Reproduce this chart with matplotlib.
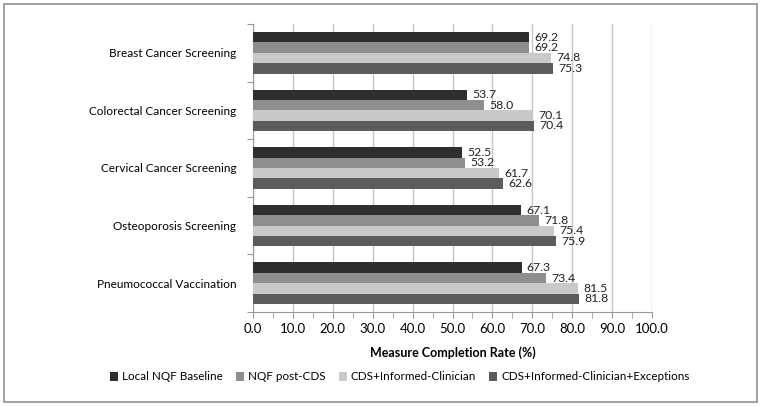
import matplotlib
matplotlib.use("Agg")
import matplotlib.pyplot as plt
import numpy as np
from matplotlib.patches import Rectangle

plt.rcParams['font.family'] = ['Lato', 'DejaVu Sans']

categories = ["Breast Cancer Screening", "Colorectal Cancer Screening",
              "Cervical Cancer Screening", "Osteoporosis Screening",
              "Pneumococcal Vaccination"]
series_names = ["Local NQF Baseline", "NQF post-CDS", "CDS+Informed-Clinician",
                "CDS+Informed-Clinician+Exceptions"]
baseline = [69.2, 53.7, 52.5, 67.1, 67.3]
post_cds = [69.2, 58.0, 53.2, 71.8, 73.4]
informed = [74.8, 70.1, 61.7, 75.4, 81.5]
exceptions = [75.3, 70.4, 62.6, 75.9, 81.8]
colors = ["#2e2e2e", "#8e8e8e", "#c9c9c9", "#5c5c5c"]

fig = plt.figure(figsize=(7.62, 4.07), dpi=100)
ax = fig.add_axes([253 / 762, 1 - 312 / 407, 399 / 762, 288 / 407])

# outer frame
fig.patches.append(Rectangle((4 / 762, 5 / 407), 753 / 762, 398 / 407,
                             transform=fig.transFigure, fill=False,
                             edgecolor="#9a9a9a", linewidth=1.3))

h = 0.18
y = np.arange(len(categories))
for j, vals in enumerate([baseline, post_cds, informed, exceptions]):
    pos = y + (j - 1.5) * h
    ax.barh(pos, vals, height=h, color=colors[j], label=series_names[j], zorder=3)
    for p, v in zip(pos, vals):
        ax.text(v + 1.3, p, f"{v:.1f}", va="center", ha="left",
                fontsize=8.8, color="#222222", zorder=4)

ax.set_xlim(0, 100)
ax.set_ylim(len(categories) - 0.5, -0.5)
ax.set_xticks(np.arange(0, 101, 10))
ax.set_xticklabels([f"{t:.1f}" for t in range(0, 101, 10)], fontsize=9.5)
ax.set_xticks(np.arange(5, 100, 10), minor=True)
ax.set_yticks(np.arange(-0.5, len(categories), 1))
ax.set_yticklabels([])
ax.set_yticks(y, minor=True)
ax.set_yticklabels(categories, minor=True, fontsize=8.5)
ax.tick_params(axis="y", which="minor", length=0, pad=12)
ax.tick_params(axis="y", which="major", length=4, color="#999999")
ax.tick_params(axis="x", which="both", length=4, color="#999999", pad=4)
ax.grid(axis="x", color="#c4c4c4", linewidth=1.0, zorder=0)
for s in ["top", "right"]:
    ax.spines[s].set_visible(False)
for s in ["left", "bottom"]:
    ax.spines[s].set_color("#999999")

ax.set_xlabel("Measure Completion Rate (%)", fontsize=9, fontweight="bold", labelpad=8)

fig.legend(loc="center", bbox_to_anchor=(400 / 762, 1 - 377 / 407), ncol=4,
           frameon=False, fontsize=8.4, handlelength=0.7, handleheight=0.7,
           handletextpad=0.35, columnspacing=1.1)

fig.savefig("out.png", dpi=100)
